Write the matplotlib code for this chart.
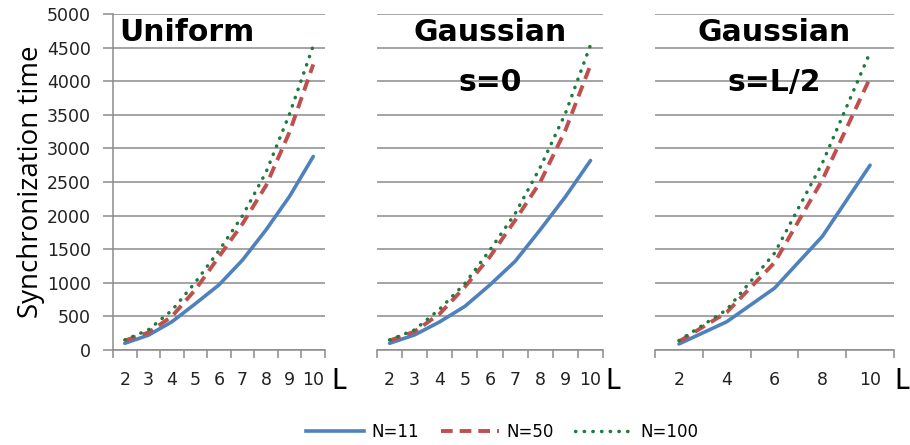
import matplotlib
matplotlib.use("Agg")
import matplotlib.pyplot as plt
from matplotlib.lines import Line2D

BLUE = "#4F81BD"; RED = "#C0504D"; GREEN = "#1E7B3E"; GRID = "#8C8C8C"

plt.rcParams["font.family"] = ["DejaVu Sans"]

# ---- data ------------------------------------------------------------------
L_full = [2, 3, 4, 5, 6, 7, 8, 9, 10]
L_half = [2, 4, 6, 8, 10]

uni_n11 = [100, 220, 420, 690, 970, 1340, 1790, 2290, 2880]
uni_n50 = [140, 260, 500, 900, 1390, 1880, 2450, 3250, 4250]
uni_n100 = [150, 300, 590, 1010, 1480, 2000, 2650, 3520, 4530]

g0_n11 = [100, 225, 420, 650, 970, 1320, 1790, 2280, 2820]
g0_n50 = [140, 275, 540, 940, 1390, 1930, 2500, 3270, 4240]
g0_n100 = [150, 300, 610, 990, 1490, 2030, 2720, 3520, 4540]

gh_n11 = [90, 420, 920, 1690, 2750]
gh_n50 = [125, 560, 1300, 2530, 4050]
gh_n100 = [140, 600, 1440, 2780, 4430]

yticks = list(range(0, 5001, 500))

fig = plt.figure(figsize=(9.1, 4.45), dpi=100)
fig.patch.set_facecolor("white")

# left, width, x position of the "L" label (axes fraction)
panels = [
    (0.1242, 0.2330, 1.028, L_full, uni_n11, uni_n50, uni_n100),
    (0.4143, 0.2484, 1.010, L_full, g0_n11, g0_n50, g0_n100),
    (0.7198, 0.2626, 1.000, L_half, gh_n11, gh_n50, gh_n100),
]
axes = []
for i, (left, w, lx, Ls, s11, s50, s100) in enumerate(panels):
    ax = fig.add_axes([left, 0.2135, w, 0.755])
    idx = list(range(len(Ls)))
    ax.plot(idx, s11, color=BLUE, lw=2.6, solid_capstyle="round")
    ax.plot(idx, s50, color=RED, lw=2.8, linestyle=(0, (3, 1.8)))
    ax.plot(idx, s100, color=GREEN, lw=2.5, linestyle=(0, (0.1, 2.4)),
            dash_capstyle="round")
    ax.set_xlim(-0.5, len(Ls) - 0.5)
    ax.set_ylim(0, 5000)
    ax.set_yticks(yticks)
    ax.grid(axis="y", color=GRID, lw=1.1)
    ax.set_axisbelow(True)
    for sp in ("top", "right"):
        ax.spines[sp].set_visible(False)
    for sp in ("bottom", "left"):
        ax.spines[sp].set_color(GRID)
        ax.spines[sp].set_linewidth(1.1)
    ax.set_xticks(idx)
    ax.set_xticklabels([str(v) for v in Ls], fontsize=12.5, color="#222222")
    ax.set_xticks([k - 0.5 for k in range(len(Ls) + 1)], minor=True)
    ax.tick_params(axis="x", which="major", length=0, pad=15)
    ax.tick_params(axis="x", which="minor", length=5.5, color=GRID, width=1.1)
    if i == 0:
        ax.set_yticklabels([str(v) for v in yticks], fontsize=12.5, color="#222222")
        ax.tick_params(axis="y", length=7, color=GRID, width=1.1, pad=9)
        ax.set_ylabel("Synchronization time", fontsize=20, labelpad=1,
                      family="Open Sans")
    else:
        ax.spines["left"].set_visible(False)
        ax.set_yticklabels([])
        ax.tick_params(axis="y", length=0)
    ax.text(lx, -0.092, "L", transform=ax.transAxes, fontsize=21,
            ha="left", va="center", color="black", family="Lato")
    axes.append(ax)

# ---- panel titles ----------------------------------------------------------
axes[0].text(0.03, 0.945, "Uniform", transform=axes[0].transAxes, fontsize=21.5,
             fontweight="bold", ha="left", va="center")
axes[1].text(0.5, 0.945, "Gaussian", transform=axes[1].transAxes, fontsize=21.5,
             fontweight="bold", ha="center", va="center")
axes[1].text(0.5, 0.795, "s=0", transform=axes[1].transAxes, fontsize=21.5,
             fontweight="bold", ha="center", va="center")
axes[2].text(0.5, 0.945, "Gaussian", transform=axes[2].transAxes, fontsize=21.5,
             fontweight="bold", ha="center", va="center")
axes[2].text(0.5, 0.795, "s=L/2", transform=axes[2].transAxes, fontsize=21.5,
             fontweight="bold", ha="center", va="center")

# ---- legend ----------------------------------------------------------------
handles = [
    Line2D([], [], color=BLUE, lw=2.6),
    Line2D([], [], color=RED, lw=2.8, linestyle=(0, (3, 1.8))),
    Line2D([], [], color=GREEN, lw=2.5, linestyle=(0, (0.1, 2.4)),
           dash_capstyle="round"),
]
fig.legend(handles, ["N=11", "N=50", "N=100"], loc="center",
           bbox_to_anchor=(0.552, 0.03), ncol=3, frameon=False, fontsize=12,
           handlelength=3.5, handletextpad=0.42, columnspacing=1.3)

plt.savefig("out.png", dpi=100, facecolor="white")
